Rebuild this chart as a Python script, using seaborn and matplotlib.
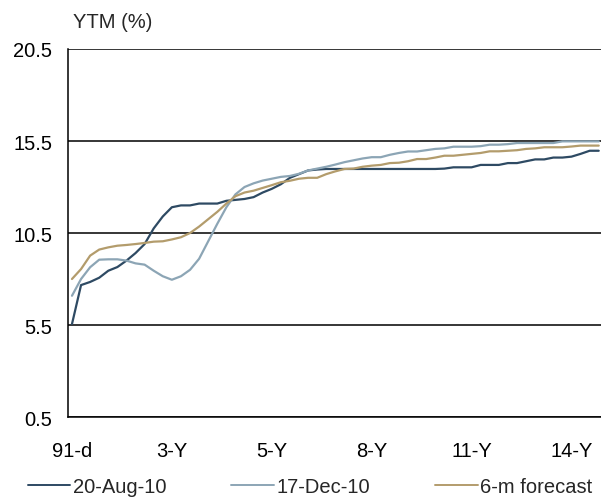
import numpy as np
import pandas as pd
import matplotlib
matplotlib.use("Agg")
import matplotlib.pyplot as plt
import seaborn as sns

# Yield curve points (YTM %), ordered by residual maturity from 91-day bills to ~15-year bonds
aug_20_10 = [5.55, 7.67, 7.84, 8.07, 8.45, 8.65, 9.0, 9.41, 9.9, 10.75,
             11.4, 11.9, 12.0, 12.0, 12.1, 12.1, 12.1, 12.25, 12.3, 12.35,
             12.45, 12.7, 12.9, 13.15, 13.5, 13.7, 13.9, 13.95, 13.98, 13.98,
             13.98, 13.98, 13.98, 13.98, 13.98, 13.98, 13.98, 13.98, 13.98, 13.98,
             13.98, 14.0, 14.07, 14.07, 14.07, 14.2, 14.2, 14.2, 14.3, 14.3,
             14.4, 14.5, 14.5, 14.6, 14.6, 14.65, 14.8, 14.97, 14.97]
dec_17_10 = [7.09, 8.0, 8.64, 9.05, 9.07, 9.07, 9.0, 8.85, 8.78, 8.45,
             8.15, 7.96, 8.15, 8.5, 9.1, 10.05, 11.0, 11.9, 12.6, 13.0,
             13.2, 13.35, 13.45, 13.55, 13.6, 13.72, 13.9, 14.0, 14.1, 14.22,
             14.35, 14.45, 14.55, 14.62, 14.62, 14.75, 14.85, 14.93, 14.93, 15.0,
             15.07, 15.1, 15.19, 15.19, 15.19, 15.22, 15.3, 15.3, 15.33, 15.39,
             15.39, 15.39, 15.39, 15.39, 15.48, 15.48, 15.48, 15.48, 15.48]
forecast_6m = [8.0, 8.54, 9.27, 9.6, 9.72, 9.81, 9.85, 9.9, 9.96, 10.03,
               10.05, 10.15, 10.27, 10.5, 10.85, 11.25, 11.65, 12.1, 12.5, 12.7,
               12.8, 12.95, 13.1, 13.26, 13.34, 13.45, 13.5, 13.5, 13.7, 13.85,
               13.98, 14.0, 14.1, 14.16, 14.2, 14.3, 14.32, 14.4, 14.52, 14.52,
               14.6, 14.7, 14.7, 14.75, 14.8, 14.85, 14.94, 14.94, 14.97, 15.0,
               15.07, 15.1, 15.16, 15.16, 15.16, 15.2, 15.25, 15.25, 15.25]

series_names = ["20-Aug-10", "17-Dec-10", "6-m forecast"]
series_colors = ["#2E4A63", "#8CA5B5", "#B39C6C"]
tick_labels = ["91-d", "3-Y", "5-Y", "8-Y", "11-Y", "14-Y"]
tick_step = 11
y_ticks = [0.5, 5.5, 10.5, 15.5, 20.5]

n = len(aug_20_10)
df = pd.DataFrame({
    "pos": np.tile(np.arange(n), 3),
    "ytm": aug_20_10 + dec_17_10 + forecast_6m,
    "series": np.repeat(series_names, n),
})

sns.set_style("white")
plt.rcParams["font.family"] = ["Liberation Sans", "DejaVu Sans"]

fig = plt.figure(figsize=(6.01, 5.02), dpi=100)
ax = fig.add_axes([0.1131, 0.1673, 0.8869, 0.7331])

sns.lineplot(data=df, x="pos", y="ytm", hue="series", hue_order=series_names,
             palette=series_colors, linewidth=1.6, ax=ax, legend=False)

ax.set_xlim(-0.44, 58.25)
ax.set_ylim(0.5, 20.5)
ax.set_yticks(y_ticks)
ax.set_yticklabels([f"{v:.1f}" for v in y_ticks])
ax.set_xticks([i * tick_step for i in range(len(tick_labels))])
ax.set_xticklabels(tick_labels)
ax.set_xlabel("")
ax.set_ylabel("")

ax.yaxis.grid(True, color="black", linewidth=1.1)
ax.set_axisbelow(True)
for side in ["top", "right"]:
    ax.spines[side].set_visible(False)
for side in ["left", "bottom"]:
    ax.spines[side].set_color("black")
    ax.spines[side].set_linewidth(1.1)

ax.tick_params(axis="both", length=0, labelsize=14.5, colors="black")
ax.tick_params(axis="y", pad=11.5)
ax.tick_params(axis="x", pad=17)

fig.text(73 / 601, 1 - 23 / 502, "YTM (%)", fontsize=14.5, ha="left", va="center")

handles = [plt.Line2D([], [], color=c, linewidth=1.4) for c in series_colors]
fig.legend(handles, series_names, loc="center", bbox_to_anchor=(310 / 601, 1 - 488 / 502),
           ncol=3, frameon=False, fontsize=14.5, handlelength=2.1,
           handletextpad=0.12, columnspacing=3.25, borderpad=0, borderaxespad=0)

fig.savefig("out.png", dpi=100)
